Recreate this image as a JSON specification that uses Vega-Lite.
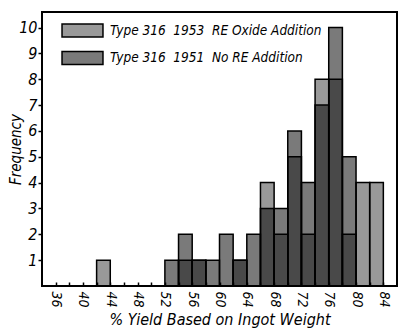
{
  "$schema": "https://vega.github.io/schema/vega-lite/v6.json",
  "width": 355,
  "height": 274,
  "autosize": {"type": "none"},
  "padding": {"left": 42, "top": 12, "right": 1, "bottom": 43},
  "background": "white",
  "config": {
    "view": {"stroke": "black", "strokeWidth": 2},
    "font": "DejaVu Sans Condensed, sans-serif",
    "axis": {
      "domain": false,
      "grid": false,
      "tickColor": "black",
      "labelColor": "black",
      "titleColor": "black",
      "labelFontStyle": "italic",
      "titleFontStyle": "italic",
      "titleFontWeight": "normal"
    }
  },
  "data": {
    "values": [
      {"from": 42, "to": 44, "series": "Type 316\u00a0 1953\u00a0 RE Oxide Addition", "count": 1},
      {"from": 54, "to": 56, "series": "Type 316\u00a0 1953\u00a0 RE Oxide Addition", "count": 1},
      {"from": 56, "to": 58, "series": "Type 316\u00a0 1953\u00a0 RE Oxide Addition", "count": 1},
      {"from": 62, "to": 64, "series": "Type 316\u00a0 1953\u00a0 RE Oxide Addition", "count": 1},
      {"from": 66, "to": 68, "series": "Type 316\u00a0 1953\u00a0 RE Oxide Addition", "count": 4},
      {"from": 68, "to": 70, "series": "Type 316\u00a0 1953\u00a0 RE Oxide Addition", "count": 2},
      {"from": 70, "to": 72, "series": "Type 316\u00a0 1953\u00a0 RE Oxide Addition", "count": 5},
      {"from": 72, "to": 74, "series": "Type 316\u00a0 1953\u00a0 RE Oxide Addition", "count": 2},
      {"from": 74, "to": 76, "series": "Type 316\u00a0 1953\u00a0 RE Oxide Addition", "count": 8},
      {"from": 76, "to": 78, "series": "Type 316\u00a0 1953\u00a0 RE Oxide Addition", "count": 8},
      {"from": 78, "to": 80, "series": "Type 316\u00a0 1953\u00a0 RE Oxide Addition", "count": 2},
      {"from": 80, "to": 82, "series": "Type 316\u00a0 1953\u00a0 RE Oxide Addition", "count": 4},
      {"from": 82, "to": 84, "series": "Type 316\u00a0 1953\u00a0 RE Oxide Addition", "count": 4},
      {"from": 52, "to": 54, "series": "Type 316\u00a0 1951\u00a0 No RE Addition", "count": 1},
      {"from": 54, "to": 56, "series": "Type 316\u00a0 1951\u00a0 No RE Addition", "count": 2},
      {"from": 56, "to": 58, "series": "Type 316\u00a0 1951\u00a0 No RE Addition", "count": 1},
      {"from": 58, "to": 60, "series": "Type 316\u00a0 1951\u00a0 No RE Addition", "count": 1},
      {"from": 60, "to": 62, "series": "Type 316\u00a0 1951\u00a0 No RE Addition", "count": 2},
      {"from": 62, "to": 64, "series": "Type 316\u00a0 1951\u00a0 No RE Addition", "count": 1},
      {"from": 64, "to": 66, "series": "Type 316\u00a0 1951\u00a0 No RE Addition", "count": 2},
      {"from": 66, "to": 68, "series": "Type 316\u00a0 1951\u00a0 No RE Addition", "count": 3},
      {"from": 68, "to": 70, "series": "Type 316\u00a0 1951\u00a0 No RE Addition", "count": 3},
      {"from": 70, "to": 72, "series": "Type 316\u00a0 1951\u00a0 No RE Addition", "count": 6},
      {"from": 72, "to": 74, "series": "Type 316\u00a0 1951\u00a0 No RE Addition", "count": 4},
      {"from": 74, "to": 76, "series": "Type 316\u00a0 1951\u00a0 No RE Addition", "count": 7},
      {"from": 76, "to": 78, "series": "Type 316\u00a0 1951\u00a0 No RE Addition", "count": 10},
      {"from": 78, "to": 80, "series": "Type 316\u00a0 1951\u00a0 No RE Addition", "count": 5}
    ]
  },
  "mark": {"type": "bar", "stroke": "black", "strokeWidth": 1.5},
  "encoding": {
    "x": {
      "field": "from",
      "type": "quantitative",
      "scale": {"domain": [34, 86], "nice": false, "zero": false},
      "axis": {
        "title": "% Yield Based on Ingot Weight",
        "titleFontSize": 16,
        "titlePadding": 4,
        "values": [36, 38, 40, 42, 44, 46, 48, 50, 52, 54, 56, 58, 60, 62, 64, 66, 68, 70, 72, 74, 76, 78, 80, 82, 84],
        "labelExpr": "datum.value % 4 == 0 ? datum.label : ''",
        "labelAngle": 90,
        "labelFontSize": 14,
        "labelPadding": 9,
        "tickSize": -4,
        "tickWidth": 1.5
      }
    },
    "x2": {"field": "to"},
    "y": {
      "field": "count",
      "type": "quantitative",
      "stack": null,
      "scale": {"domain": [0, 10.6], "nice": false},
      "axis": {
        "title": "Frequency",
        "titleFontSize": 15,
        "titleX": -19,
        "values": [1, 2, 3, 4, 5, 6, 7, 8, 9, 10],
        "labelFontSize": 16,
        "labelPadding": 1,
        "tickSize": 4,
        "tickWidth": 1.5
      }
    },
    "y2": {"datum": 0},
    "fill": {
      "field": "series",
      "type": "nominal",
      "scale": {
        "domain": ["Type 316\u00a0 1953\u00a0 RE Oxide Addition", "Type 316\u00a0 1951\u00a0 No RE Addition"],
        "range": ["rgba(0,0,0,0.4)", "rgba(0,0,0,0.52)"]
      },
      "legend": {
        "title": null,
        "orient": "none",
        "legendX": 33,
        "legendY": 11,
        "padding": 0,
        "symbolType": "M-3.15,-1H3.15V1H-3.15Z",
        "symbolSize": 169,
        "symbolStrokeColor": "black",
        "symbolStrokeWidth": 1.5,
        "symbolOpacity": 1,
        "labelOffset": 20,
        "labelFontSize": 13.5,
        "labelFontStyle": "italic",
        "labelColor": "black",
        "labelLimit": 400,
        "rowPadding": 8.5
      }
    }
  }
}
